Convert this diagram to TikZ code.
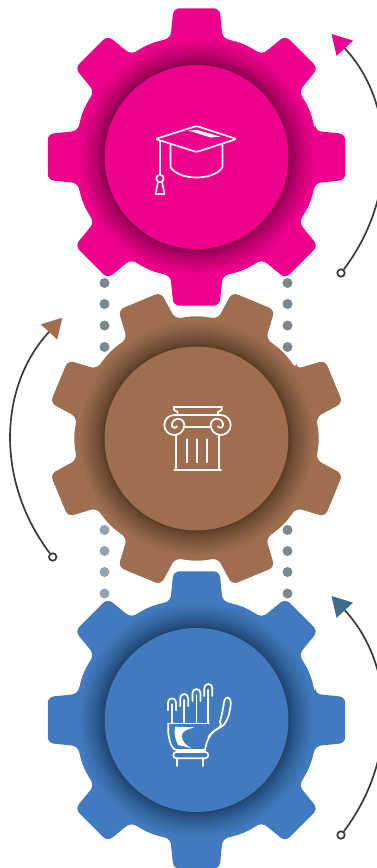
\documentclass[tikz,border=0pt]{standalone}
\usetikzlibrary{arrows.meta}
\definecolor{pinkgear}{RGB}{238, 0, 140}
\definecolor{browngear}{RGB}{158, 110, 78}
\definecolor{bluegear}{RGB}{65, 122, 191}
\definecolor{tealtip}{RGB}{62, 108, 140}
\definecolor{dotdark}{RGB}{124, 136, 144}
\definecolor{dotlight}{RGB}{147, 163, 174}
\definecolor{arcline}{RGB}{58, 58, 60}
\colorlet{gearfill}{pinkgear}
\tikzset{
    icon/.style={draw=white, line width=1.7pt, line join=round, line cap=round},
    arcarrow/.style={draw=arcline, line width=1.7pt},
    arcring/.style={circle, draw=arcline, fill=white, line width=1.7pt,
        minimum size=7.5pt, inner sep=0pt},
    gearteeth/.pic={
        \fill[gearfill, rounded corners=6pt] (-12.4:121.5)
            \foreach \a in {0, 45, ..., 315} {
                -- (\a-12.4:121.5) -- (\a-8.8:150.5) -- (\a+8.8:150.5)
                -- (\a+12.4:121.5) -- (\a+17.5:122) -- (\a+22.5:122.5)
                -- (\a+27.5:122)
            } -- cycle;
    },
    gearhub/.pic={
        \foreach \k in {1, ..., 24} {
            \pgfmathsetmacro{\ringr}{92 + 25*(\k/24)^2}
            \fill[black, opacity=.025] (0, 0) circle (\ringr);
        }
        \fill[gearfill] (0, 0) circle (92);
    },
    capicon/.pic={
        \draw[icon, rounded corners=1.5pt] (-41, -18) -- (0, -31) -- (40, -18)
            -- (0, -5) -- cycle;
        \fill[white] (-8, -26.5) -- (1, -27) -- (24, -20.3) -- (14, -19.5)
            -- cycle;
        \draw[icon] (-26, -12) -- (-26, 10) .. controls (-18, 24) and (18, 24)
            .. (26, 10) -- (26, -12);
        \draw[icon] (-36.5, -15.5) -- (-36.5, 17);
        \draw[icon] (-36.5, 21.5) circle (3.7);
        \draw[icon] (-38.5, 25) -- (-41, 37) -- (-32, 37) -- (-34.5, 25);
    },
    columnicon/.pic={
        \draw[icon] (-22.5, -31.8) -- (25.2, -31.8);
        \draw[icon] (-22.5, -31.8) -- (-22.5, -28.5) -- (-18.9, -26.5)
            -- (-18.9, -23.5);
        \draw[icon] (25.2, -31.8) -- (25.2, -28.5) -- (21.5, -26.5)
            -- (21.5, -23.5);
        \draw[icon] (-22.2, -23.5) -- (24.2, -23.5);
        \draw[icon] (-22.2, -23.5) arc (-90:-360:10) arc (0:-180:6.2)
            arc (-180:-330:2.8);
        \draw[icon] (24.2, -23.5) arc (-90:180:10) arc (180:360:6.2)
            arc (0:150:2.8);
        \draw[icon] (-12.5, -11.5) -- (14.5, -11.5);
        \draw[icon] (-20.5, -3.5) -- (-20.5, 30);
        \draw[icon] (22.8, -3.5) -- (22.8, 30);
        \draw[icon, line width=2pt] (-22.2, 31.8) -- (24.5, 31.8);
        \draw[icon] (-9.2, 0.8) -- (-9.2, 23.8);
        \draw[icon] (0.8, 0.8) -- (0.8, 23.8);
        \draw[icon] (10.8, 0.8) -- (10.8, 23.8);
    },
    handicon/.pic={
        \foreach \x/\y in {-24.5/-21.7, -12.3/-26, 0/-31, 11.8/-36} {
            \draw[icon] (\x-4, \y+12) -- (\x-4, \y+4) arc (180:360:4)
                -- (\x+4, \y+12);
            \draw[icon] (\x, \y+6) -- (\x, 3);
        }
        \draw[icon] (-28.2, 3.5) -- (12.5, 3.5);
        \draw[icon] (-28.2, 3.5) -- (-28.2, 13) .. controls (-27, 23) and (-24, 30)
            .. (-20, 30) -- (8.5, 30) .. controls (10, 22) and (12, 14)
            .. (21.8, 8.3) .. controls (25, 6) and (25, 3) .. (23.5, 1.7);
        \draw[icon] (12, 17) .. controls (16, 10) and (24, 8) .. (27, 5)
            .. controls (31, 1) and (33, -6) .. (34.2, -15)
            .. controls (35, -24) and (29, -25) .. (27.5, -18)
            .. controls (26.5, -10) and (25, -4) .. (23.5, 1.7);
        \fill[white] (-21.5, 6.7) -- (-1.5, 7.3) .. controls (-9, 9) and (-14.8, 11)
            .. (-14.8, 16) .. controls (-14.8, 21) and (-10, 26) .. (-4.8, 28.3)
            -- (-18.2, 25) .. controls (-21, 20) and (-23, 14) .. (-21.5, 6.7);
        \draw[icon, rounded corners=3pt] (-23.2, 32) rectangle (11.8, 38.3);
        \draw[icon] (-19.8, 38.3) -- (-19.8, 46);
        \draw[icon] (6.2, 38.3) -- (6.2, 46);
    },
}
\begin{document}
\begin{tikzpicture}[x=1pt, y=-1pt]
    \useasboundingbox (0, 0) rectangle (377, 868);
    \coordinate (pinkcentre) at (196.5, 157);
    \coordinate (browncentre) at (196.5, 438.5);
    \coordinate (bluecentre) at (196.5, 720);
    % dotted guide lines behind the gears
    \foreach \y in {283, 304, 325.5, 347} {
        \fill[dotdark] (104.5, \y) circle (5);
        \fill[dotdark] (287.5, \y) circle (5);
    }
    \foreach \y in {530, 551, 572, 593.5} {
        \fill[dotlight] (104.5, \y) circle (5);
        \fill[dotdark] (287.5, \y) circle (5);
    }
    \pic at (pinkcentre) {gearteeth};
    \pic at (pinkcentre) {gearhub};
    \pic at (pinkcentre) {capicon};
    \begin{scope}
        \colorlet{gearfill}{browngear}
        \pic[rotate=22.5] at (browncentre) {gearteeth};
        \pic at (browncentre) {gearhub};
        \pic at (browncentre) {columnicon};
    \end{scope}
    \begin{scope}
        \colorlet{gearfill}{bluegear}
        \pic at (bluecentre) {gearteeth};
        \pic at (bluecentre) {gearhub};
        \pic at (bluecentre) {handicon};
    \end{scope}
    % arcs with their end rings
    \node[arcring] (pinkring) at (341, 273) {};
    \coordinate (pinktip) at (331.5, 34);
    \draw[arcarrow, -{Triangle[length=19.5pt, width=22pt, color=pinkgear]}]
        (pinkring) to[bend right=40] (pinktip);
    \node[arcring] (brownring) at (52.7, 557) {};
    \coordinate (browntip) at (62.3, 317.7);
    \draw[arcarrow, -{Triangle[length=19.5pt, width=22pt, color=browngear]}]
        (brownring) to[bend left=40] (browntip);
    \node[arcring] (bluering) at (341, 835) {};
    \coordinate (bluetip) at (331.5, 596);
    \draw[arcarrow, -{Triangle[length=19.5pt, width=22pt, color=tealtip]}]
        (bluering) to[bend right=40] (bluetip);
\end{tikzpicture}
\end{document}
